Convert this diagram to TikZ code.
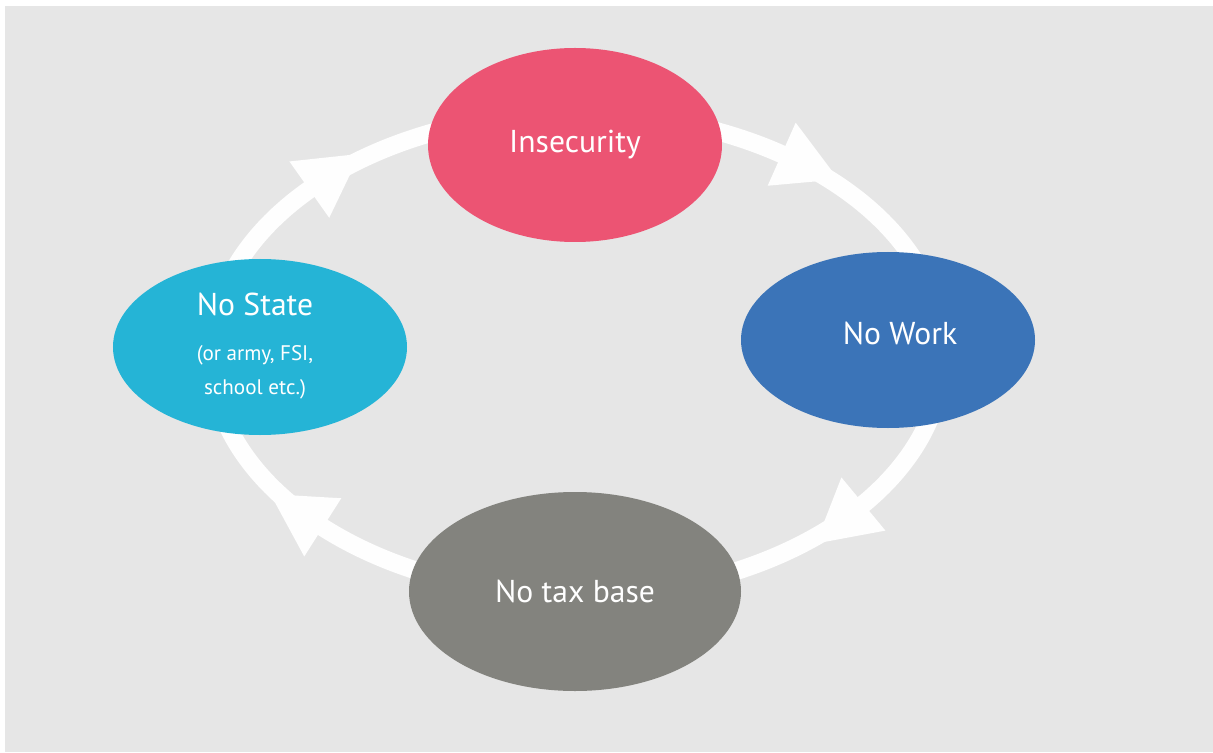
\documentclass[tikz,border=0pt]{standalone}
\usepackage{fontspec}
\setsansfont{PT Sans}
\usetikzlibrary{shapes.geometric}
\definecolor{panel}{HTML}{E6E6E6}
\definecolor{cyclering}{HTML}{FEFEFE}
\definecolor{insecure}{HTML}{EC5473}
\definecolor{nowork}{HTML}{3B74B8}
\definecolor{notax}{HTML}{83837E}
\definecolor{nostate}{HTML}{25B4D6}

\begin{document}
\begin{tikzpicture}[
	bubble/.style={
		ellipse, draw=none, inner sep=0pt,
		font=\sffamily\fontsize{18}{22}\selectfont, text=white
	},
	bubbletext/.style={font=\sffamily\fontsize{18}{22}\selectfont, text=white, inner sep=0pt},
	notetext/.style={font=\sffamily\fontsize{12}{19.4}\selectfont, text=white, align=center, inner sep=0pt},
	ringline/.style={draw=cyclering, line width=0.36cm}
	]
	
	% ==========================================
	% BACKGROUND PANEL
	% ==========================================
	\useasboundingbox (-11.54,-7.96) rectangle (12.72,7.08);
	\fill[white] (-11.54,-7.96) rectangle (12.72,7.08);
	\fill[panel] (-11.44,-7.96) rectangle (12.72,6.96);
	
	% ==========================================
	% THE CYCLE: white ring with four heads
	% ==========================================
	\coordinate (hub) at (0,0);
	\draw[ringline] (hub) ellipse [x radius=7.32cm, y radius=4.82cm];
	
	% heads run clockwise round the ring
	\foreach \t in {137,56,-38.5,-134} {
		\pgfmathsetmacro{\dir}{atan2(-4.82*cos(\t), 7.32*sin(\t))}
		\fill[cyclering, shift={(\t:7.32 and 4.82)}, rotate=\dir]
		(0,0.69) -- (1.24,0) -- (0,-0.69) -- cycle;
	}
	
	% ==========================================
	% THE FOUR STAGES
	% ==========================================
	
	% Top
	\node[bubble, fill=insecure, minimum width=5.88cm, minimum height=3.88cm]
	(insecurity) at (-0.04,4.18) {Insecurity};
	
	% Right
	\node[bubble, fill=nowork, minimum width=5.88cm, minimum height=3.52cm]
	(work) at (6.22,0.28) {};
	\node[bubbletext] (work title) at (6.46,0.42) {No Work};
	
	% Bottom
	\node[bubble, fill=notax, minimum width=6.64cm, minimum height=3.98cm]
	(tax) at (-0.04,-4.75) {No tax base};
	
	% Left
	\node[bubble, fill=nostate, minimum width=5.88cm, minimum height=3.52cm]
	(state) at (-6.34,0.14) {};
	\node[bubbletext] (state title) at (-6.44,1.00) {No State};
	\node[notetext] (state note) at (-6.44,-0.36) {(or army, FSI,\\school etc.)};
\end{tikzpicture}
\end{document}
